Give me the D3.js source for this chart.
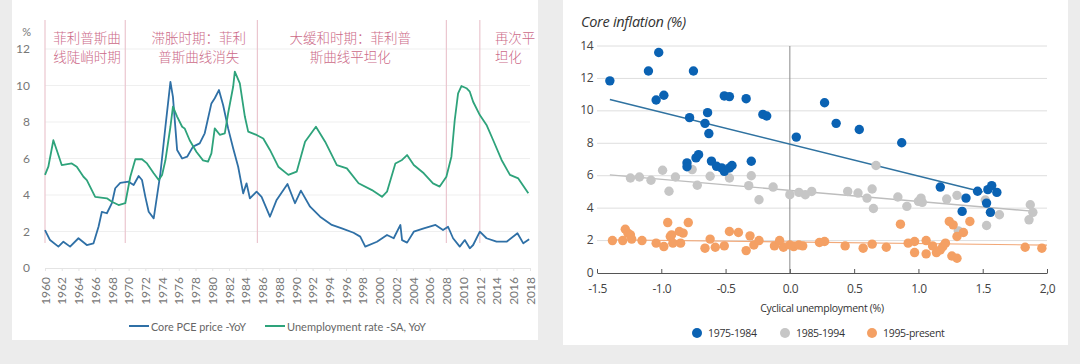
<!DOCTYPE html>
<html>
<head>
<meta charset="utf-8">
<script src="https://cdn.jsdelivr.net/npm/d3@7"></script>
<style>
  body { margin: 0; background: #ececec; }
  svg { display: block; }
</style>
</head>
<body>
<div id="chart"></div>
<script>
// ---- left panel data: core PCE and unemployment (%)
var pceYears = [1960.0,1960.6,1961.6,1962.2,1963.0,1964.0,1965.0,1965.8,1966.4,1966.8,1967.4,1968.0,1968.4,1969.0,1970.0,1970.6,1971.2,1971.6,1972.0,1972.4,1973.0,1973.8,1974.4,1975.0,1975.3,1975.8,1976.4,1977.0,1977.7,1978.5,1979.1,1979.9,1980.3,1980.8,1981.3,1981.9,1982.5,1983.1,1983.7,1984.1,1984.5,1985.3,1985.9,1986.9,1987.7,1989.0,1989.9,1990.6,1991.7,1992.9,1994.3,1995.5,1996.9,1997.7,1998.3,1999.7,2000.9,2001.7,2002.5,2002.7,2003.3,2004.1,2005.3,2006.7,2007.6,2008.2,2008.8,2009.6,2010.2,2010.8,2011.2,2012.0,2012.8,2014.0,2015.2,2016.5,2017.2,2017.9];
var pceValues = [2.08,1.53,1.17,1.44,1.17,1.63,1.26,1.35,2.26,3.08,3.0,3.55,4.37,4.67,4.73,4.55,5.04,4.82,3.9,3.08,2.72,5.19,7.74,10.2,9.38,6.47,6.0,6.1,6.65,6.83,7.38,9.02,9.3,9.75,8.93,7.65,6.56,5.55,4.09,4.64,3.82,4.18,3.9,2.81,3.73,4.6,3.55,4.24,3.36,2.81,2.36,2.17,1.93,1.72,1.17,1.44,1.81,1.63,2.36,1.53,1.39,1.99,2.17,2.36,2.08,2.26,1.63,1.17,1.53,1.08,1.26,1.99,1.63,1.44,1.44,1.9,1.35,1.57];

var unempYears = [1960.0,1960.4,1961.0,1961.4,1962.0,1963.2,1963.8,1964.6,1965.0,1966.0,1967.4,1968.0,1968.8,1969.6,1970.2,1970.8,1971.6,1972.2,1973.0,1973.6,1974.0,1974.4,1975.0,1975.3,1975.8,1976.4,1976.7,1977.3,1978.1,1978.9,1979.5,1979.9,1980.3,1980.9,1981.5,1981.9,1982.5,1982.7,1983.3,1983.9,1984.3,1985.3,1986.1,1986.9,1987.9,1989.1,1990.1,1991.1,1992.4,1993.5,1994.9,1996.1,1997.5,1999.1,2000.3,2000.9,2001.9,2002.7,2003.3,2004.1,2005.3,2006.4,2007.2,2008.0,2008.6,2009.0,2009.4,2009.8,2010.4,2010.8,2011.2,2012.0,2012.8,2013.6,2014.6,2015.6,2016.6,2017.8];
var unempValues = [5.1,5.55,7.0,6.47,5.64,5.73,5.55,5.0,4.82,3.9,3.82,3.63,3.45,3.55,5.0,5.96,5.96,5.73,5.19,4.82,5.1,5.9,7.74,8.84,8.3,7.74,7.65,7.0,6.37,5.9,5.83,6.28,7.65,7.3,7.38,8.48,9.93,10.76,10.12,8.3,7.47,7.29,7.1,6.47,5.55,5.1,5.28,6.92,7.74,6.92,5.64,5.46,4.64,4.27,3.9,4.18,5.73,5.92,6.19,5.64,5.19,4.64,4.46,5.0,6.1,8.11,9.57,9.97,9.85,9.66,9.11,8.38,7.84,7.0,5.92,5.1,4.91,4.09];

var yearTicks = d3.range(1960, 2019, 2);
var leftYTicks = [0, 2, 4, 6, 8, 10, 12];
var periodBreaks = [1960, 1969.6, 1985.4, 2008, 2012];
var periodLabels = [
  { year: 1961, lines: ["菲利普斯曲", "线陡峭时期"], anchor: "start" },
  { year: 1978.4, lines: ["滞胀时期：菲利", "普斯曲线消失"], anchor: "middle" },
  { year: 1996.5, lines: ["大缓和时期：菲利普", "斯曲线平坦化"], anchor: "middle" },
  { year: 2013.8, lines: ["再次平", "坦化"], anchor: "start" }
];

// ---- right panel data: core inflation vs cyclical unemployment
var blueX = [-1.40,-1.10,-1.02,-1.04,-0.98,-0.75,-0.78,-0.64,-0.66,-0.63,-0.80,-0.80,-0.73,-0.71,-0.61,-0.57,-0.53,-0.51,-0.47,-0.45,-0.51,-0.47,-0.34,-0.21,-0.18,-0.30,0.05,0.27,0.36,0.54,0.87,1.17,1.37,1.34,1.46,1.54,1.57,1.61,1.53,1.56];
var blueY = [11.85,12.46,13.6,10.67,10.96,12.46,9.58,9.89,9.23,8.6,6.79,6.55,7.1,7.3,6.9,6.58,6.48,6.27,6.48,6.63,10.92,10.88,10.75,9.78,9.68,6.89,8.38,10.5,9.23,8.85,8.03,5.3,4.62,3.8,5.04,5.14,5.39,4.97,4.31,3.74];

var grayX = [-1.24,-1.17,-1.08,-0.99,-0.94,-0.89,-0.76,-0.72,-0.62,-0.47,-0.32,-0.30,-0.24,-0.13,0.00,0.07,0.12,0.17,0.45,0.53,0.60,0.64,0.65,0.67,0.84,0.91,1.00,1.02,1.03,1.22,1.30,1.31,1.52,1.53,1.63,1.87,1.89,1.86];
var grayY = [5.86,5.92,5.72,6.34,5.04,5.92,6.38,5.41,5.97,5.86,5.39,6.0,4.52,5.3,4.83,4.97,4.83,5.03,5.03,4.93,4.62,5.18,3.98,6.63,4.69,4.11,4.42,4.62,4.36,4.56,4.79,2.6,4.5,2.93,3.59,4.21,3.74,3.28];

var orangeX = [-1.38,-1.30,-1.28,-1.26,-1.23,-1.24,-1.15,-1.04,-0.98,-0.95,-0.93,-0.92,-0.91,-0.86,-0.85,-0.83,-0.79,-0.66,-0.62,-0.58,-0.51,-0.47,-0.40,-0.34,-0.31,-0.28,-0.24,-0.12,-0.08,-0.05,0.00,0.03,0.07,0.10,0.23,0.27,0.43,0.57,0.64,0.75,0.86,0.92,0.97,0.97,1.06,1.06,1.11,1.14,1.17,1.19,1.21,1.24,1.27,1.30,1.35,1.40,1.26,1.30,1.83,1.96];
var orangeY = [2.0,2.0,2.7,2.46,2.09,2.35,2.0,1.84,1.63,3.11,2.25,2.35,1.84,2.56,1.84,2.46,3.11,1.53,2.09,1.59,1.67,2.56,2.5,1.38,2.29,1.73,2.0,1.67,2.0,1.59,1.73,1.63,1.73,1.67,1.88,1.94,1.67,1.53,1.78,1.59,3.01,1.84,1.94,1.26,2.0,1.18,1.67,1.26,1.42,1.63,1.84,3.18,2.97,2.25,2.5,3.18,1.05,0.91,1.59,1.53];

// trend lines (end points)
var blueTrendX = [-1.4, 1.5],  blueTrendY = [10.7, 5.0];
var grayTrendX = [-1.4, 1.9],  grayTrendY = [6.05, 3.8];
var orangeTrendX = [-1.4, 2.0], orangeTrendY = [2.05, 1.72];

var rightXTicks = [-1.5, -1.0, -0.5, 0, 0.5, 1.0, 1.5, 2.0];
var rightXLabels = ["-1.5", "-1.0", "-0.5", "0.0", "0.5", "1.0", "1.5", "2,0"];
var rightYTicks = [0, 2, 4, 6, 8, 10, 12, 14];
var legendNames = ["1975-1984", "1985-1994", "1995-present"];

// colours
var cPce = "#2f70a6", cUnemp = "#2ea37b", cPink = "#cc6a88";
var cBlue = "#0a62b3", cGray = "#c6c6c6", cOrange = "#f4a064";

var svg = d3.select("#chart").append("svg")
    .attr("width", 1080)
    .attr("height", 364);

// panels
svg.append("rect").attr("x", 12).attr("y", 0).attr("width", 526).attr("height", 340).attr("fill", "#fff");
svg.append("rect").attr("x", 563).attr("y", 0).attr("width", 505).attr("height", 345).attr("fill", "#fff");

// ================= left chart =================
var xL = d3.scaleLinear().domain([1960, 2018]).range([45, 530]);
var yL = d3.scaleLinear().domain([0, 12]).range([268, 49]);
var left = svg.append("g").style("font-family", "Lato, 'Open Sans', sans-serif");

// gridlines
left.append("g").selectAll("line")
    .data(leftYTicks.slice(1))
    .enter().append("line")
    .attr("x1", xL(1960)).attr("x2", xL(2018))
    .attr("y1", d => yL(d)).attr("y2", d => yL(d))
    .attr("stroke", "#efefef");

// y labels
left.append("g").selectAll("text")
    .data(leftYTicks)
    .enter().append("text")
    .attr("x", 30).attr("y", d => yL(d) + 4)
    .attr("text-anchor", "end")
    .attr("font-size", 12).attr("fill", "#777")
    .text(d => d);
left.append("text").attr("x", 31).attr("y", 36).attr("text-anchor", "end")
    .attr("font-size", 11).attr("fill", "#777").text("%");

// x axis
var xAxisL = d3.axisBottom(xL).tickValues(yearTicks).tickSize(3).tickFormat(d3.format("d"));
var gx = left.append("g").attr("transform", `translate(0, ${yL(0)})`).call(xAxisL);
gx.select(".domain").attr("stroke", "#e4e4e4");
gx.selectAll(".tick line").attr("stroke", "#e4e4e4");
gx.selectAll(".tick text")
    .attr("transform", "rotate(-90)")
    .attr("x", -9).attr("y", 0).attr("dy", "0.35em")
    .attr("text-anchor", "end")
    .attr("font-size", 12).attr("fill", "#777")
    .style("font-family", "Lato, sans-serif");

// period separators
left.append("g").selectAll("line")
    .data(periodBreaks)
    .enter().append("line")
    .attr("x1", d => xL(d)).attr("x2", d => xL(d))
    .attr("y1", 20).attr("y2", 243)
    .attr("stroke", "#ebc6cf").attr("stroke-width", 1.2);

// period labels
periodLabels.forEach(function(p) {
  p.lines.forEach(function(t, i) {
    left.append("text")
      .attr("x", xL(p.year)).attr("y", 43 + i * 19)
      .attr("text-anchor", p.anchor)
      .attr("font-size", 13.5)
      .attr("fill", cPink)
      .style("font-family", "'Noto Sans CJK SC', sans-serif")
      .style("font-weight", 300)
      .text(t);
  });
});

// lines
var pceData = pceYears.map((y, i) => [y, pceValues[i]]);
var unempData = unempYears.map((y, i) => [y, unempValues[i]]);
var lineL = d3.line().x(d => xL(d[0])).y(d => yL(d[1]));

left.append("path").datum(pceData)
    .attr("d", lineL).attr("fill", "none")
    .attr("stroke", cPce).attr("stroke-width", 1.8).attr("stroke-linejoin", "round");
left.append("path").datum(unempData)
    .attr("d", lineL).attr("fill", "none")
    .attr("stroke", cUnemp).attr("stroke-width", 1.8).attr("stroke-linejoin", "round");

// legend
var legL = [
  { name: "Core PCE price -YoY", color: cPce, x: 129, w: 95 },
  { name: "Unemployment rate -SA, YoY", color: cUnemp, x: 265, w: 139 }
];
legL.forEach(function(l) {
  left.append("line").attr("x1", l.x).attr("x2", l.x + 20)
      .attr("y1", 326).attr("y2", 326)
      .attr("stroke", l.color).attr("stroke-width", 2);
  left.append("text").attr("x", l.x + 22).attr("y", 330.5)
      .attr("font-size", 12).attr("fill", "#666")
      .attr("textLength", l.w).attr("lengthAdjust", "spacingAndGlyphs")
      .text(l.name);
});

// ================= right chart =================
var xR = d3.scaleLinear().domain([-1.5, 2.0]).range([597, 1047]);
var yR = d3.scaleLinear().domain([0, 14]).range([273, 46]);
var right = svg.append("g").style("font-family", "'Open Sans', sans-serif");

right.append("text").attr("x", 581).attr("y", 27)
    .attr("font-size", 14.5).attr("font-style", "italic").attr("fill", "#333")
    .attr("letter-spacing", -0.3)
    .text("Core inflation (%)");

// gridlines
right.append("g").selectAll("line")
    .data(rightYTicks.slice(1))
    .enter().append("line")
    .attr("x1", xR(-1.5)).attr("x2", xR(2.0))
    .attr("y1", d => yR(d)).attr("y2", d => yR(d))
    .attr("stroke", "#dedede");

// y labels
right.append("g").selectAll("text")
    .data(rightYTicks)
    .enter().append("text")
    .attr("x", 593).attr("y", d => yR(d) + 3.5)
    .attr("text-anchor", "end")
    .attr("font-size", 12).attr("fill", "#444")
    .attr("letter-spacing", -0.5)
    .text(d => d);

// zero line
right.append("line")
    .attr("x1", xR(0)).attr("x2", xR(0))
    .attr("y1", yR(14)).attr("y2", yR(0))
    .attr("stroke", "#8a8a8a");

// x axis
var xAxisR = d3.axisBottom(xR).tickValues(rightXTicks)
    .tickSizeInner(-4).tickSizeOuter(0).tickPadding(11)
    .tickFormat((d, i) => rightXLabels[i]);
var gxr = right.append("g").attr("transform", `translate(0, ${yR(0)})`).call(xAxisR);
gxr.select(".domain").attr("stroke", "#555");
gxr.selectAll(".tick line").attr("stroke", "#555");
gxr.selectAll(".tick text").attr("font-size", 12).attr("fill", "#444")
    .attr("letter-spacing", -0.5)
    .style("font-family", "'Open Sans', sans-serif");

right.append("text").attr("x", 822).attr("y", 312)
    .attr("text-anchor", "middle").attr("font-size", 10.5).attr("fill", "#333")
    .attr("letter-spacing", -0.3)
    .text("Cyclical unemployment (%)");

// trend lines
var lineR = d3.line().x(d => xR(d[0])).y(d => yR(d[1]));
var trends = [
  { xs: orangeTrendX, ys: orangeTrendY, color: "#f2a878", w: 1.2 },
  { xs: grayTrendX, ys: grayTrendY, color: "#bdbdbd", w: 1.4 },
  { xs: blueTrendX, ys: blueTrendY, color: "#2f72a0", w: 1.6 }
];
trends.forEach(function(t) {
  right.append("path")
    .datum(t.xs.map((x, i) => [x, t.ys[i]]))
    .attr("d", lineR).attr("fill", "none")
    .attr("stroke", t.color).attr("stroke-width", t.w);
});

// points
var sets = [
  { xs: grayX, ys: grayY, color: cGray },
  { xs: orangeX, ys: orangeY, color: cOrange },
  { xs: blueX, ys: blueY, color: cBlue }
];
sets.forEach(function(s) {
  right.append("g").selectAll("circle")
    .data(s.xs.map((x, i) => [x, s.ys[i]]))
    .enter().append("circle")
    .attr("cx", d => xR(d[0]))
    .attr("cy", d => yR(d[1]))
    .attr("r", 4.7)
    .attr("fill", s.color);
});

// legend
var legR = [
  { name: legendNames[0], color: cBlue, x: 697 },
  { name: legendNames[1], color: cGray, x: 785 },
  { name: legendNames[2], color: cOrange, x: 872 }
];
legR.forEach(function(l) {
  right.append("circle").attr("cx", l.x).attr("cy", 333).attr("r", 5).attr("fill", l.color);
  right.append("text").attr("x", l.x + 11).attr("y", 336.5)
      .attr("font-size", 10.5).attr("fill", "#333").attr("letter-spacing", -0.3)
      .text(l.name);
});
</script>
</body>
</html>
